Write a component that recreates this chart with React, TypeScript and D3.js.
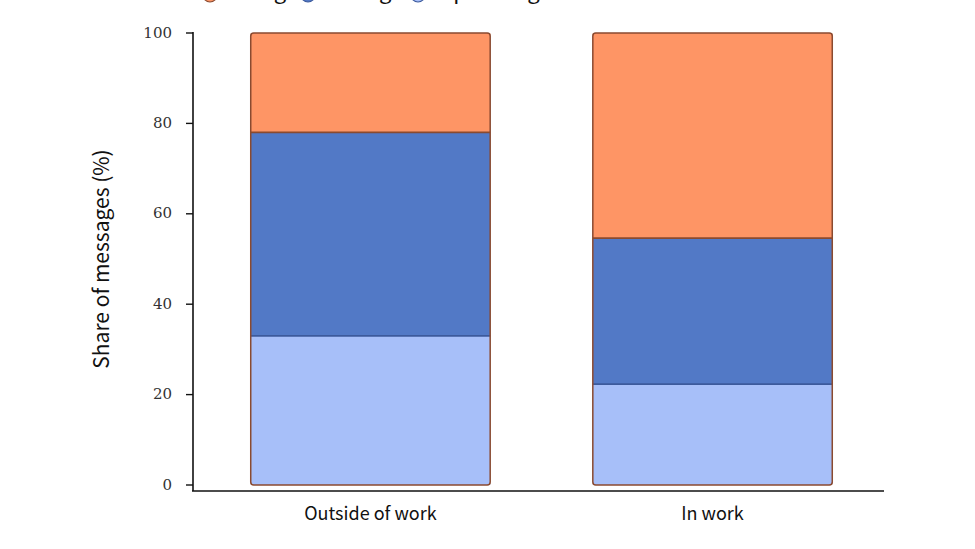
import React, { useEffect, useRef } from 'react';
import * as d3 from 'd3';

// categories along the x axis
const contexts = ['Outside of work', 'In work'];
// series, in legend order (top of the stack first)
const seriesNames = ['Asking', 'Doing', 'Expressing'];
const asking = [22, 45.4];
const doing = [45, 32.3];
const expressing = [33, 22.3];
const yTicks = [0, 20, 40, 60, 80, 100];

const fills: Record<string, string> = {
  Asking: '#fe9565',
  Doing: '#5279c6',
  Expressing: '#a7bff9',
};
const edges: Record<string, string> = {
  Asking: '#8a4a30',
  Doing: '#3c5a9c',
  Expressing: '#3c5a9c',
};

const App = () => {
  const ref = useRef<SVGSVGElement | null>(null);

  useEffect(() => {
    if (!ref.current) return;
    const svg = d3.select(ref.current);
    svg.selectAll('*').remove();

    const rows = contexts.map((c, i) => ({
      context: c,
      Expressing: expressing[i],
      Doing: doing[i],
      Asking: asking[i],
    }));

    // stack from the bottom: Expressing, Doing, Asking
    const stack = d3.stack<any>().keys(['Expressing', 'Doing', 'Asking']);
    const layers = stack(rows);

    const x = d3
      .scaleBand<string>()
      .domain(contexts)
      .range([196, 887])
      .paddingInner(0.3)
      .paddingOuter(0.16);
    const y = d3.scaleLinear().domain([0, 100]).range([485, 33]);

    // bars
    const bars = svg.append('g');
    layers.forEach((layer) => {
      bars
        .selectAll(`.seg-${layer.key}`)
        .data(layer)
        .enter()
        .append('rect')
        .attr('x', (d) => x(d.data.context)!)
        .attr('width', x.bandwidth())
        .attr('y', (d) => y(d[1]))
        .attr('height', (d) => y(d[0]) - y(d[1]))
        .attr('fill', fills[layer.key]);
    });

    // dividers between segments
    layers.slice(0, -1).forEach((layer, li) => {
      const above = layers[li + 1].key;
      bars
        .selectAll(`.div-${layer.key}`)
        .data(layer)
        .enter()
        .append('line')
        .attr('x1', (d) => x(d.data.context)!)
        .attr('x2', (d) => x(d.data.context)! + x.bandwidth())
        .attr('y1', (d) => y(d[1]))
        .attr('y2', (d) => y(d[1]))
        .attr('stroke', edges[above])
        .attr('stroke-width', 1.8);
    });

    // outline with rounded corners
    bars
      .selectAll('.outline')
      .data(rows)
      .enter()
      .append('rect')
      .attr('x', (d) => x(d.context)!)
      .attr('width', x.bandwidth())
      .attr('y', y(100))
      .attr('height', y(0) - y(100))
      .attr('rx', 3)
      .attr('fill', 'none')
      .attr('stroke', '#8a4a30')
      .attr('stroke-width', 1.5);

    // y axis
    const yAxis = svg.append('g');
    yAxis
      .append('line')
      .attr('x1', 193)
      .attr('x2', 193)
      .attr('y1', y(100) - 1)
      .attr('y2', 491)
      .attr('stroke', '#111')
      .attr('stroke-width', 1.6);
    yAxis
      .selectAll('.tick')
      .data(yTicks)
      .enter()
      .append('line')
      .attr('x1', 186)
      .attr('x2', 193)
      .attr('y1', (d) => y(d))
      .attr('y2', (d) => y(d))
      .attr('stroke', '#111')
      .attr('stroke-width', 1.4);
    yAxis
      .selectAll('.label')
      .data(yTicks)
      .enter()
      .append('text')
      .attr('x', 172)
      .attr('y', (d) => y(d))
      .attr('dy', '0.3em')
      .attr('text-anchor', 'end')
      .attr('font-family', '"DejaVu Serif", serif')
      .attr('font-size', 15)
      .attr('fill', '#333')
      .text((d) => d);

    svg
      .append('text')
      .attr('transform', `translate(109,${(y(0) + y(100)) / 2}) rotate(-90)`)
      .attr('text-anchor', 'middle')
      .attr('font-family', '"Noto Sans CJK SC", "Noto Sans", sans-serif')
      .attr('font-size', 21)
      .attr('fill', '#111')
      .text('Share of messages (%)');

    // x axis
    svg
      .append('line')
      .attr('x1', 192)
      .attr('x2', 884)
      .attr('y1', 491)
      .attr('y2', 491)
      .attr('stroke', '#111')
      .attr('stroke-width', 1.6);
    svg
      .append('g')
      .selectAll('text')
      .data(contexts)
      .enter()
      .append('text')
      .attr('x', (d) => x(d)! + x.bandwidth() / 2)
      .attr('y', 520)
      .attr('text-anchor', 'middle')
      .attr('font-family', '"Noto Sans CJK SC", "Noto Sans", sans-serif')
      .attr('font-size', 18)
      .attr('fill', '#111')
      .text((d) => d);

    // legend, mostly above the top edge
    const legendX = [210, 308, 418];
    const legendGap = [8, 23, 12];
    const legend = svg.append('g');
    seriesNames.forEach((name, i) => {
      const item = legend.append('g').attr('transform', `translate(${legendX[i]},0)`);
      item
        .append('circle')
        .attr('cx', 0)
        .attr('cy', -5)
        .attr('r', 7)
        .attr('fill', fills[name])
        .attr('stroke', edges[name])
        .attr('stroke-width', 1.2);
      item
        .append('text')
        .attr('x', legendGap[i])
        .attr('y', -1)
        .attr('font-family', '"Noto Sans CJK SC", "Noto Sans", sans-serif')
        .attr('font-size', 22)
        .attr('fill', '#111')
        .text(name);
    });
  }, []);

  return (
    <svg
      ref={ref}
      width={975}
      height={549}
      style={{ position: 'absolute', left: 0, top: 0, background: '#fff' }}
    />
  );
};

export default App;
